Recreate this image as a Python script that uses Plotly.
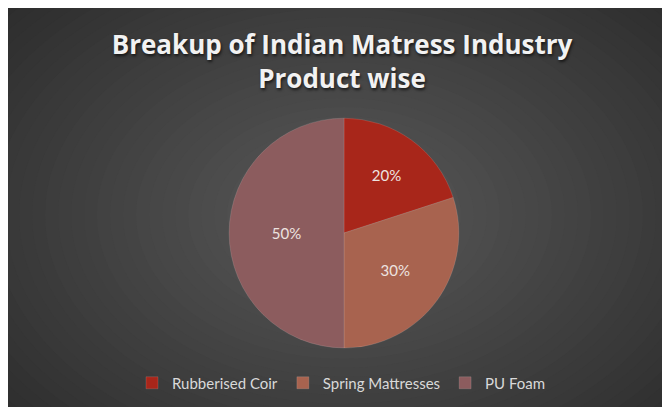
import plotly.graph_objects as go

# data
products = ["Rubberised Coir", "Spring Mattresses", "PU Foam"]
shares = [20, 30, 50]
slice_colors = ["#A8261A", "#A8634F", "#8C5C5E"]
title_lines = ["Breakup of Indian Matress Industry", "Product wise"]

# the page adds an 8px white margin top/left, so the figure is a bit smaller
W, H = 662, 399

fig = go.Figure()

fig.add_trace(go.Pie(
    labels=products,
    values=shares,
    sort=False,
    direction="clockwise",
    rotation=0,
    marker=dict(colors=slice_colors, line=dict(color="rgba(255,255,255,0.18)", width=0.7)),
    textinfo="percent",
    texttemplate="%{percent:.0%}",
    textposition="inside",
    insidetextorientation="horizontal",
    textfont=dict(family="Lato", size=15, color="#EDE3E0"),
    domain=dict(x=[0.334, 0.681], y=[0.148, 0.724]),
    hoverinfo="label+percent",
))

# radial-ish background gradient built from stacked ellipses
shapes = []
steps = 40
cx, cy = 336 / W, 1 - 207 / H
edge = (0x27, 0x27, 0x27)
centre = (0x5A, 0x5A, 0x5A)
for i in range(steps):
    t = 1 - i / steps
    rx = t * 520 / W
    ry = t * 360 / H
    c = [round(centre[k] + (edge[k] - centre[k]) * t) for k in range(3)]
    shapes.append(dict(
        type="circle", xref="paper", yref="paper", layer="below",
        x0=cx - rx, x1=cx + rx, y0=cy - ry, y1=cy + ry,
        fillcolor="rgb(%d,%d,%d)" % tuple(c), line=dict(width=0),
    ))

title_font = dict(family="Open Sans", size=26, color="#F2F2F2", weight="bold",
                  shadow="1px 2px 3px rgba(0,0,0,0.65)")

fig.update_layout(
    width=W, height=H,
    margin=dict(l=0, r=0, t=0, b=0),
    paper_bgcolor="#272727",
    plot_bgcolor="#272727",
    shapes=shapes,
    title=dict(
        text="<br>".join(title_lines),
        x=334 / W, xanchor="center",
        y=1 - 46 / H, yanchor="middle",
        font=title_font,
    ),
    showlegend=True,
    legend=dict(
        orientation="h",
        x=124 / W, xanchor="left",
        y=1 - 375 / H, yanchor="middle",
        font=dict(family="Lato", size=15, color="#D9D9D9"),
        bgcolor="rgba(0,0,0,0)",
        itemwidth=30,
    ),
)

fig.write_html("out.html")
